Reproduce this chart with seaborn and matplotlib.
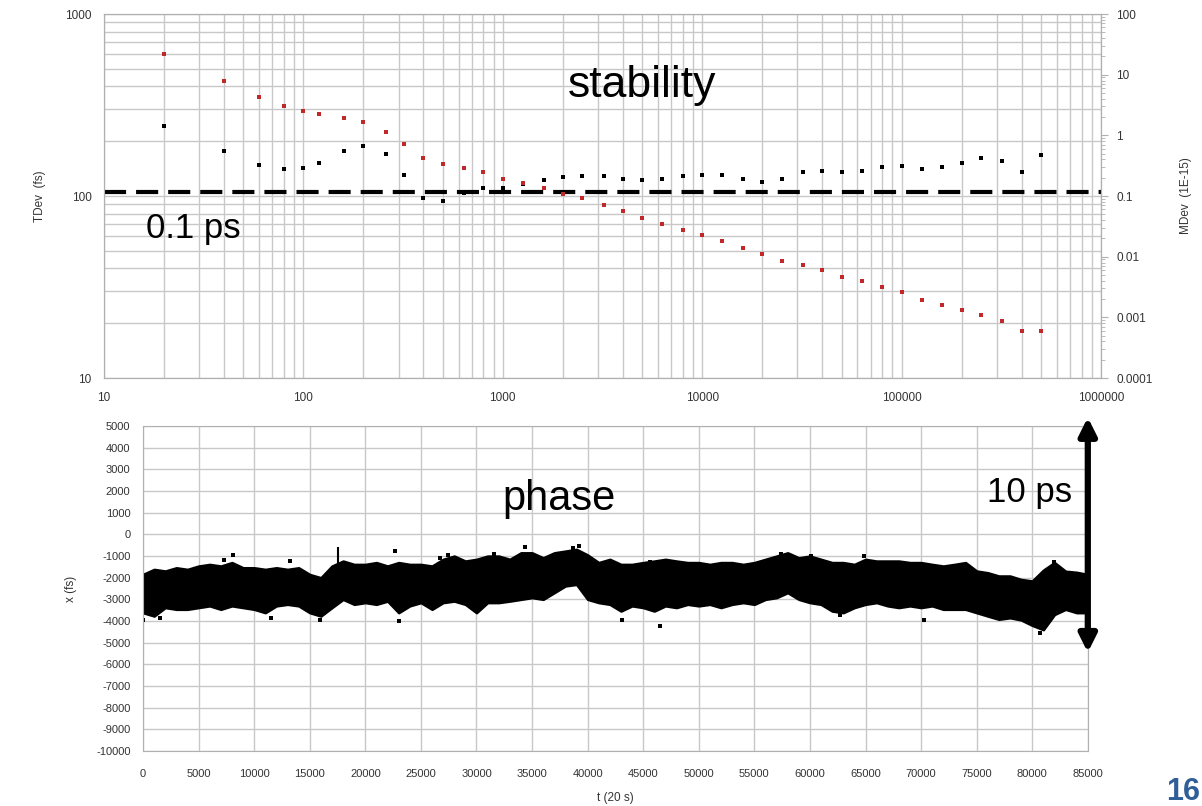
import seaborn as sns
import matplotlib.pyplot as plt
import matplotlib.ticker as mticker
import pandas as pd

sns.set_style("white")
plt.rcParams['font.family'] = ['Liberation Sans', 'DejaVu Sans']
plt.rcParams['axes.unicode_minus'] = False

# stability: averaging time (s), TDev (fs) and MDev (1E-15)
tau = [20, 40, 60, 80, 100, 120, 160, 200, 260, 320, 400, 500, 640, 800, 1000,
       1260, 1600, 2000, 2500, 3200, 4000, 5000, 6300, 8000, 10000, 12600, 16000,
       20000, 25000, 32000, 40000, 50000, 63000, 80000, 100000, 126000, 160000,
       200000, 250000, 320000, 400000, 500000]
tdev = [244, 176, 149, 140, 142, 152, 176, 188, 170, 131, 97, 94, 104, 111, 111,
        117, 122, 127, 129, 129, 124, 122, 124, 129, 131, 131, 124, 120, 124, 135,
        137, 135, 137, 145, 147, 140, 145, 152, 162, 156, 135, 167]
mdev = [22.0, 7.76, 4.29, 3.01, 2.50, 2.25, 1.94, 1.66, 1.13, 0.726, 0.424, 0.333,
        0.286, 0.245, 0.191, 0.167, 0.136, 0.107, 0.092, 0.072, 0.056, 0.044, 0.034,
        0.028, 0.023, 0.018, 0.014, 0.011, 0.0086, 0.0073, 0.0060, 0.0047, 0.0039,
        0.0032, 0.0026, 0.0019, 0.0016, 0.0013, 0.0011, 0.00088, 0.0006, 0.0006]
ref_level = 105

# phase: band envelope of x (fs) read every 1000 samples
t_env = list(range(0, 86000, 1000))
phase_hi = [-1846, -1615, -1690, -1540, -1615, -1460, -1385, -1460, -1300, -1540,
            -1540, -1615, -1540, -1615, -1540, -1850, -2000, -1460, -1230, -1385,
            -1385, -1300, -1460, -1300, -1385, -1385, -1460, -1150, -1000, -1230,
            -1150, -1000, -1000, -1150, -850, -850, -1080, -850, -770, -690,
            -950, -1300, -1150, -1385, -1385, -1300, -1230, -1150, -1230, -1300,
            -1300, -1385, -1300, -1300, -1385, -1300, -1150, -1000, -850, -1080,
            -1000, -1150, -1300, -1300, -1385, -1150, -1230, -1230, -1230, -1300,
            -1300, -1385, -1460, -1385, -1300, -1690, -1770, -1920, -1920, -2080,
            -2150, -1650, -1300, -1700, -1750, -1850]
phase_lo = [-3615, -3770, -3380, -3460, -3460, -3380, -3300, -3460, -3300, -3380,
            -3460, -3615, -3300, -3230, -3300, -3615, -3770, -3380, -3000, -3230,
            -3150, -3230, -3080, -3615, -3300, -3150, -3460, -3150, -3080, -3230,
            -3615, -3150, -3150, -3080, -3000, -2920, -3000, -2690, -2380, -2310,
            -3000, -3150, -3230, -3540, -3300, -3380, -3540, -3300, -3380, -3230,
            -3300, -3230, -3380, -3230, -3150, -3230, -3000, -2920, -2690, -3000,
            -3150, -3230, -3540, -3615, -3380, -3230, -3150, -3300, -3380, -3300,
            -3380, -3300, -3460, -3460, -3460, -3615, -3770, -3920, -3850, -3950,
            -4200, -4400, -3700, -3460, -3615, -3615]
# isolated samples outside the band
out_t = [0, 1550, 7300, 8100, 11550, 13200, 15900, 22700, 23000, 26700, 27400,
         31550, 34340, 38700, 39200, 43050, 45600, 46500, 57400, 60100, 62660,
         64850, 70300, 80700, 81950]
out_x = [-3970, -3860, -1170, -950, -3860, -1250, -3940, -785, -4015, -1100, -940,
         -890, -585, -630, -550, -3970, -1290, -4250, -890, -985, -3700,
         -1015, -3970, -4550, -1280]
spike_t = [17500]
spike_x = [-585]

grid_c = '#c8c8c8'
spine_c = '#b0b0b0'
tick_c = '#333333'

fig = plt.figure(figsize=(12.02, 8.06), dpi=100)

# ---------- top: stability ----------
ax = fig.add_axes([0.0865, 0.531, 0.8295, 0.4516])
ax.set_xscale('log')
ax.set_yscale('log')
ax.set_xlim(10, 1000000)
ax.set_ylim(10, 1000)
ax.grid(True, which='both', color=grid_c, lw=1)
ax.set_axisbelow(True)
ax.xaxis.set_major_formatter(mticker.FuncFormatter(lambda v, p: '%d' % v))
ax.yaxis.set_major_formatter(mticker.FuncFormatter(lambda v, p: '%d' % v))
ax.xaxis.set_minor_formatter(mticker.NullFormatter())
ax.yaxis.set_minor_formatter(mticker.NullFormatter())
ax.tick_params(which='both', length=0, labelsize=8.5, colors=tick_c)
ax.tick_params(axis='x', pad=10)
ax.tick_params(axis='y', pad=9)
for s in ax.spines.values():
    s.set_color(spine_c)

ax2 = ax.twinx()
ax2.set_yscale('log')
ax2.set_ylim(0.0001, 100)
ax2.yaxis.set_major_formatter(mticker.FuncFormatter(lambda v, p: '%g' % v))
ax2.yaxis.set_minor_formatter(mticker.NullFormatter())
ax2.tick_params(which='major', length=5, labelsize=8.5, labelcolor=tick_c, color=spine_c, pad=6)
ax2.tick_params(which='minor', length=3, color=spine_c)
for s in ax2.spines.values():
    s.set_color(spine_c)

df_t = pd.DataFrame({'tau': tau, 'tdev': tdev, 'mdev': mdev})
ax.axhline(ref_level, color='black', lw=3, dashes=(5.3, 2.4), zorder=2)
sns.scatterplot(data=df_t, x='tau', y='tdev', ax=ax, marker='s', s=10,
                color='black', linewidth=0, zorder=3)
sns.scatterplot(data=df_t, x='tau', y='mdev', ax=ax2, marker='s', s=10,
                color='#c0282a', linewidth=0, zorder=3)
ax.set_xlabel('')
ax.set_ylabel('TDev  (fs)', fontsize=8.5, color=tick_c, labelpad=14)
ax2.set_xlabel('')
ax2.set_ylabel('MDev  (1E-15)', fontsize=8.5, color=tick_c, labelpad=20)

fig.text(568 / 1202, 1 - 97 / 806, 'stability', fontsize=32, color='black')
fig.text(146 / 1202, 1 - 238 / 806, '0.1 ps', fontsize=25, color='black')

# ---------- bottom: phase ----------
bx = fig.add_axes([0.119, 0.0682, 0.786, 0.4032])
bx.set_xlim(0, 85000)
bx.set_ylim(-10000, 5000)
bx.set_xticks(range(0, 85001, 5000))
bx.set_yticks(range(-10000, 5001, 1000))
bx.grid(True, color=grid_c, lw=1)
bx.set_axisbelow(True)
bx.tick_params(length=0, labelsize=8, colors=tick_c)
bx.tick_params(axis='x', pad=13)
bx.tick_params(axis='y', pad=9)
for s in bx.spines.values():
    s.set_color(spine_c)

bx.fill_between(t_env, phase_lo, phase_hi, color='black', lw=1.8, edgecolor='black')
bx.vlines(spike_t, -1460, spike_x, color='black', lw=1.5)
df_o = pd.DataFrame({'t': out_t, 'x': out_x})
sns.scatterplot(data=df_o, x='t', y='x', ax=bx, marker='s', s=6, color='black', linewidth=0)
bx.set_xlabel('t (20 s)', fontsize=8.5, color=tick_c, labelpad=9)
bx.set_ylabel('x (fs)', fontsize=8.5, color=tick_c, labelpad=14)

bx.annotate('', xy=(85000, 5400), xytext=(85000, -5450), annotation_clip=False,
            arrowprops=dict(arrowstyle='<|-|>', color='black', lw=4.5,
                            mutation_scale=26, shrinkA=0, shrinkB=0))
fig.text(502 / 1202, 1 - 510 / 806, 'phase', fontsize=30, color='black')
fig.text(987 / 1202, 1 - 502 / 806, '10 ps', fontsize=25, color='black')
fig.text(1166 / 1202, 1 - 800 / 806, '16', fontsize=22, fontweight='bold', color='#2f5f98')

plt.savefig('out.png', dpi=100)
